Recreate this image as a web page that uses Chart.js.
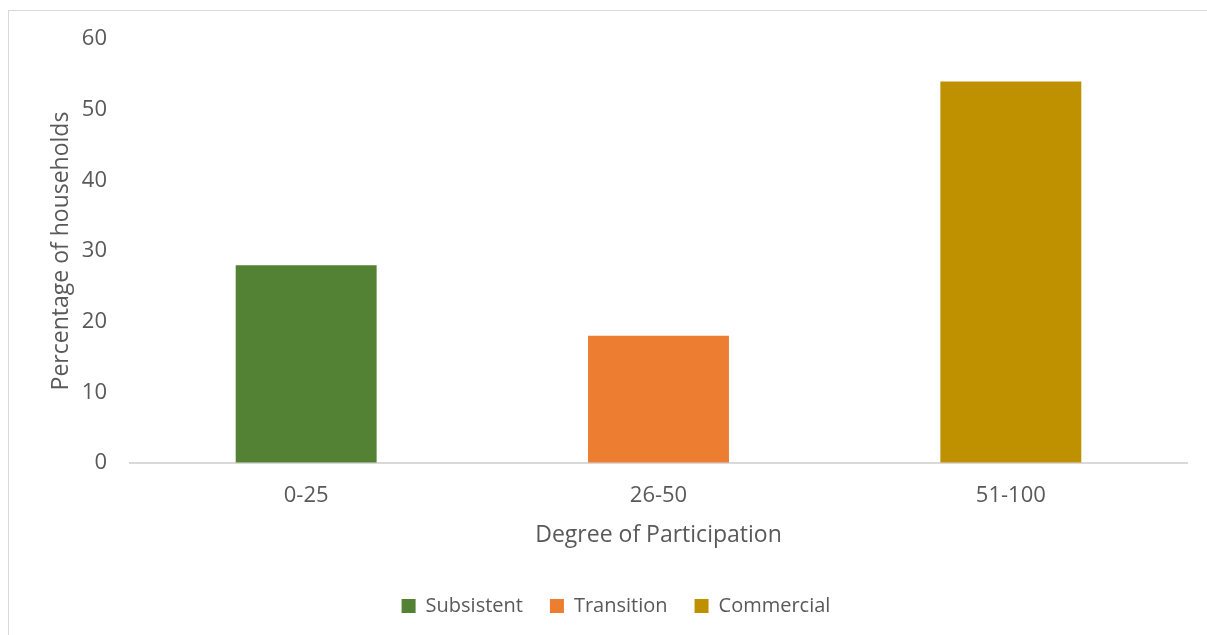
<!DOCTYPE html>
<html>
<head>
<meta charset="utf-8">
<script src="https://cdn.jsdelivr.net/npm/chart.js@4/dist/chart.umd.min.js"></script>
<style>
  html, body { margin: 0; padding: 0; background: #fff; overflow: hidden; }
  #frame {
    position: absolute; left: 8px; top: 10px;
    border-top: 1px solid #d9d9d9; border-left: 1px solid #d9d9d9;
  }
  canvas { display: block; }
</style>
</head>
<body>
<div id="frame"><canvas id="chart" width="1198" height="624"></canvas></div>
<script>
// ── Data ─────────────────────────────────────────────
const categories = ['0-25', '26-50', '51-100'];
const seriesNames = ['Subsistent', 'Transition', 'Commercial'];
const seriesValues = [
  [28, null, null],
  [null, 18, null],
  [null, null, 54]
];
const seriesColors = ['#548235', '#ED7D31', '#BF9000'];
const yTicks = [0, 10, 20, 30, 40, 50, 60];

Chart.defaults.font.family = "'Open Sans', sans-serif";
Chart.defaults.color = '#595959';

new Chart(document.getElementById('chart'), {
  type: 'bar',
  data: {
    labels: categories,
    datasets: seriesNames.map((name, i) => ({
      label: name,
      data: seriesValues[i],
      backgroundColor: seriesColors[i],
      borderWidth: 0,
      skipNull: true,
      barPercentage: 1,
      categoryPercentage: 0.4,
      yAxisID: 'y'
    }))
  },
  options: {
    responsive: false,
    animation: false,
    layout: { padding: { left: 18, right: 2, top: 28, bottom: 9 } },
    plugins: {
      tooltip: { enabled: false },
      legend: {
        position: 'bottom',
        labels: {
          font: { size: 20 },
          boxWidth: 14, boxHeight: 14,
          padding: 27
        }
      }
    },
    scales: {
      x: {
        grid: { display: false },
        border: { display: true, color: '#d9d9d9', width: 2 },
        ticks: { font: { size: 22 }, padding: 12 },
        title: {
          display: true, text: 'Degree of Participation',
          font: { size: 23 }, padding: { top: 0, bottom: 20 }
        },
        afterFit: s => { s.height = 106; }
      },
      y: {
        min: yTicks[0], max: yTicks[yTicks.length - 1],
        grid: {
          display: true, drawOnChartArea: false,
          drawTicks: true, tickLength: 23, color: 'rgba(0,0,0,0)'
        },
        border: { display: false },
        ticks: { font: { size: 22 }, padding: 0, stepSize: 10 },
        afterBuildTicks: s => { s.ticks = yTicks.map(v => ({ value: v })); },
        title: {
          display: true, text: 'Percentage of households',
          font: { size: 23 }, padding: { top: 21, bottom: 0 }
        },
        afterFit: s => { s.width = 103; }
      },
      // empty spacer on the right so the legend sits where the original has it
      y2: {
        position: 'right',
        grid: { display: false },
        border: { display: false },
        ticks: { display: false },
        afterFit: s => { s.width = 18; }
      }
    }
  }
});
</script>
</body>
</html>
